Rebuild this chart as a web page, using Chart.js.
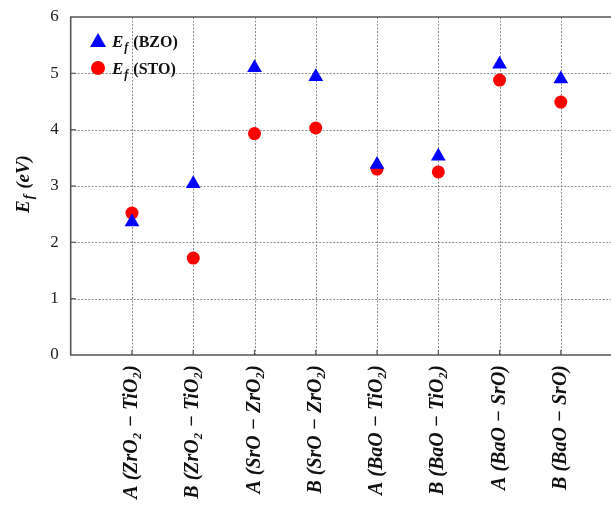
<!DOCTYPE html>
<html>
<head>
<meta charset="utf-8">
<script src="https://cdn.jsdelivr.net/npm/chart.js@4.4.1/dist/chart.umd.min.js"></script>
<style>
  html, body { margin: 0; padding: 0; background: #fff; }
  #wrap { width: 611px; height: 508px; }
</style>
</head>
<body>
<div id="wrap"><canvas id="myChart" width="611" height="508"></canvas></div>
<script>
// categories (x axis) and the two series
const categories = [
  'A (ZrO\u2082 \u2212 TiO\u2082)',
  'B (ZrO\u2082 \u2212 TiO\u2082)',
  'A (SrO \u2212 ZrO\u2082)',
  'B (SrO \u2212 ZrO\u2082)',
  'A (BaO \u2212 TiO\u2082)',
  'B (BaO \u2212 TiO\u2082)',
  'A (BaO \u2212 SrO)',
  'B (BaO \u2212 SrO)'
];
const bzo = [2.36, 3.04, 5.10, 4.94, 3.38, 3.53, 5.16, 4.90];
const sto = [2.52, 1.72, 3.93, 4.03, 3.30, 3.25, 4.88, 4.49];
const yTicks = [0, 1, 2, 3, 4, 5, 6];

const serif = '"Liberation Serif", "DejaVu Serif", serif';

const toPoints = arr => arr.map((v, i) => ({x: i + 1, y: v}));

// draws "E" with subscript "f" followed by rest, starting at x (baseline y)
function drawEf(ctx, x, y, rest, restFont, size) {
  ctx.textBaseline = 'alphabetic';
  ctx.textAlign = 'left';
  ctx.font = 'bold italic ' + size + 'px ' + serif;
  ctx.fillText('E', x, y);
  x += ctx.measureText('E').width + 1;
  ctx.font = 'bold italic ' + Math.round(size * 0.72) + 'px ' + serif;
  ctx.fillText('f', x, y + 4);
  x += ctx.measureText('f').width + 1;
  ctx.font = restFont;
  ctx.fillText(rest, x, y);
  return x + ctx.measureText(rest).width;
}
function efWidth(ctx, rest, restFont, size) {
  let w = 0;
  ctx.font = 'bold italic ' + size + 'px ' + serif; w += ctx.measureText('E').width + 1;
  ctx.font = 'bold italic ' + Math.round(size * 0.72) + 'px ' + serif; w += ctx.measureText('f').width + 1;
  ctx.font = restFont; w += ctx.measureText(rest).width;
  return w;
}

const decor = {
  id: 'decor',
  beforeDatasetsDraw(chart) {
    const ctx = chart.ctx;
    const xs = chart.scales.x, ys = chart.scales.y;
    const a = chart.chartArea;
    const xEnd = chart.width; // plot runs off the right edge
    ctx.save();
    // dotted grid
    ctx.strokeStyle = '#8a8a8a';
    ctx.lineWidth = 1;
    ctx.setLineDash([2, 1.5]);
    categories.forEach((c, i) => {
      const px = Math.round(xs.getPixelForValue(i + 1)) + 0.5;
      ctx.beginPath(); ctx.moveTo(px, a.top); ctx.lineTo(px, a.bottom); ctx.stroke();
    });
    yTicks.slice(1, -1).forEach(v => {
      const py = Math.round(ys.getPixelForValue(v)) + 0.5;
      ctx.beginPath(); ctx.moveTo(a.left, py); ctx.lineTo(xEnd, py); ctx.stroke();
    });
    ctx.setLineDash([]);
    // axes and top line
    ctx.strokeStyle = '#555';
    ctx.lineWidth = 1.6;
    ctx.beginPath();
    ctx.moveTo(xEnd, ys.getPixelForValue(6));
    ctx.lineTo(a.left, ys.getPixelForValue(6));
    ctx.lineTo(a.left, ys.getPixelForValue(0));
    ctx.lineTo(xEnd, ys.getPixelForValue(0));
    ctx.stroke();
    // inward ticks
    ctx.lineWidth = 1.2;
    yTicks.slice(1, -1).forEach(v => {
      const py = ys.getPixelForValue(v);
      ctx.beginPath(); ctx.moveTo(a.left, py); ctx.lineTo(a.left + 5, py); ctx.stroke();
    });
    categories.forEach((c, i) => {
      const px = xs.getPixelForValue(i + 1);
      ctx.beginPath(); ctx.moveTo(px, a.bottom); ctx.lineTo(px, a.bottom - 5); ctx.stroke();
    });
    ctx.restore();
  },
  afterDraw(chart) {
    const ctx = chart.ctx;
    ctx.save();
    ctx.fillStyle = '#111';
    // y axis title
    const tFont = 'bold italic 19px ' + serif;
    const w = efWidth(ctx, ' (eV)', tFont, 19);
    ctx.translate(29, 184);
    ctx.rotate(-Math.PI / 2);
    drawEf(ctx, -w / 2, 0, ' (eV)', tFont, 19);
    ctx.restore();

    // legend
    ctx.save();
    ctx.fillStyle = '#0000ff';
    ctx.beginPath();
    ctx.moveTo(98, 33); ctx.lineTo(106, 47); ctx.lineTo(90, 47); ctx.closePath(); ctx.fill();
    ctx.fillStyle = '#ff0000';
    ctx.beginPath(); ctx.arc(98, 68, 7, 0, Math.PI * 2); ctx.fill();
    ctx.fillStyle = '#111';
    const lFont = 'bold 16px ' + serif;
    drawEf(ctx, 112, 47, ' (BZO)', lFont, 17);
    drawEf(ctx, 112, 74, ' (STO)', lFont, 17);
    ctx.restore();
  }
};

const config = {
  type: 'scatter',
  data: {
    datasets: [
      {
        label: 'Ef (BZO)',
        data: toPoints(bzo),
        pointStyle: 'triangle',
        pointRadius: 8.5,
        pointHoverRadius: 8.5,
        backgroundColor: '#0000ff',
        borderColor: '#0000ff',
        borderWidth: 0
      },
      {
        label: 'Ef (STO)',
        data: toPoints(sto),
        pointStyle: 'circle',
        pointRadius: 6.5,
        pointHoverRadius: 6.5,
        backgroundColor: '#ff0000',
        borderColor: '#ff0000',
        borderWidth: 0
      }
    ]
  },
  options: {
    responsive: false,
    animation: false,
    devicePixelRatio: 1,
    layout: { padding: { top: 17, right: 0, left: 0, bottom: 0 } },
    plugins: { legend: { display: false }, tooltip: { enabled: false } },
    scales: {
      x: {
        type: 'linear',
        min: 0,
        max: 8.68,
        grid: { display: false, drawTicks: false },
        border: { display: false },
        afterBuildTicks: s => { s.ticks = categories.map((c, i) => ({value: i + 1})); },
        afterFit: s => { s.height = 153; },
        ticks: {
          autoSkip: false,
          minRotation: 90,
          maxRotation: 90,
          padding: 10,
          color: '#111',
          font: { family: serif, size: 20, style: 'italic', weight: 'bold' },
          callback: v => categories[v - 1]
        }
      },
      y: {
        min: 0,
        max: 6,
        grid: { display: false, drawTicks: false },
        border: { display: false },
        afterBuildTicks: s => { s.ticks = yTicks.map(v => ({value: v})); },
        afterFit: s => { s.width = 70.7; s.paddingTop = 0; s.paddingBottom = 0; },
        ticks: {
          padding: 12,
          color: '#222',
          font: { family: serif, size: 17 }
        }
      }
    }
  },
  plugins: [decor]
};

new Chart(document.getElementById('myChart'), config);
</script>
</body>
</html>
